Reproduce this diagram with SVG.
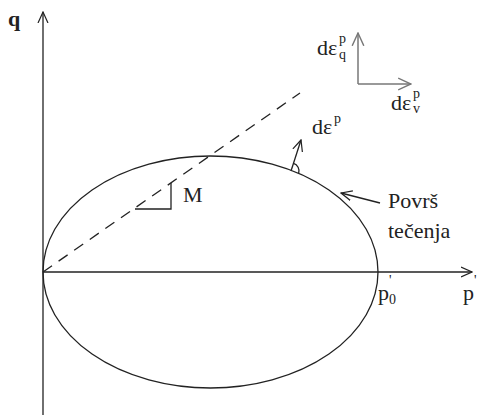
<svg xmlns="http://www.w3.org/2000/svg" width="483" height="419" viewBox="0 0 483 419">
<defs>
<marker id="open" viewBox="0 0 12 12" refX="11" refY="6" markerWidth="12" markerHeight="12" markerUnits="userSpaceOnUse" orient="auto">
<path d="M0,1 L11,6 L0,11" fill="none" stroke="#222" stroke-width="1.2"/>
</marker>
<marker id="open2" viewBox="0 0 12 12" refX="11" refY="6" markerWidth="14" markerHeight="14" markerUnits="userSpaceOnUse" orient="auto">
<path d="M0,1 L11,6 L0,11" fill="none" stroke="#777" stroke-width="1.2"/>
</marker>
</defs>
<style>
.ln{stroke:#222;stroke-width:1.3;fill:none}
.gr{stroke:#777;stroke-width:1.5;fill:none}
.t{font-size:22px}
.s{font-size:14px}
</style>
<rect width="483" height="419" fill="#fff"/>
<g id="connectors">
<line class="ln" x1="43" y1="415" x2="43" y2="12" marker-end="url(#open)"/>
<line class="ln" x1="43" y1="272" x2="472" y2="272" marker-end="url(#open)"/>
<line class="ln" x1="43" y1="272" x2="300" y2="93" stroke-dasharray="11,8"/>
<line class="ln" x1="291" y1="171" x2="301" y2="140" marker-end="url(#open)"/>
<path class="ln" d="M293.5,163.4 A8,8 0 0 1 298.7,173.3"/>
<line class="gr" x1="358" y1="84" x2="358" y2="33" marker-end="url(#open2)"/>
<line class="gr" x1="358" y1="84" x2="411" y2="84" marker-end="url(#open2)"/>
<line class="ln" x1="380" y1="203" x2="341" y2="193" marker-end="url(#open)"/>
<polyline class="ln" points="135,209 171,209 171,183"/>
</g>
<g id="ellipse"><ellipse class="ln" cx="210.5" cy="272" rx="167.5" ry="116"/></g>
<g id="labels" font-family="'Liberation Serif', 'DejaVu Serif', 'Times New Roman', serif" fill="#222">
<text class="t" x="8" y="26" font-weight="bold">q</text>
<text class="t" x="183" y="202">M</text>
<text class="t" x="312" y="134">dε</text><text class="s" x="334" y="123">p</text>
<text class="t" x="317" y="55">dε</text><text class="s" x="339" y="43">p</text><text class="s" x="339" y="59">q</text>
<text class="t" x="391" y="110">dε</text><text class="s" x="413" y="98">p</text><text class="s" x="413" y="113">v</text>
<text class="t" x="388" y="208">Površ</text>
<text class="t" x="388" y="238">tečenja</text>
<text class="t" x="378" y="300">p</text><text class="s" x="389" y="285">'</text><text class="s" x="389" y="304">0</text>
<text class="t" x="463" y="300">p</text><text class="s" x="474" y="285">'</text>
</g>
</svg>
